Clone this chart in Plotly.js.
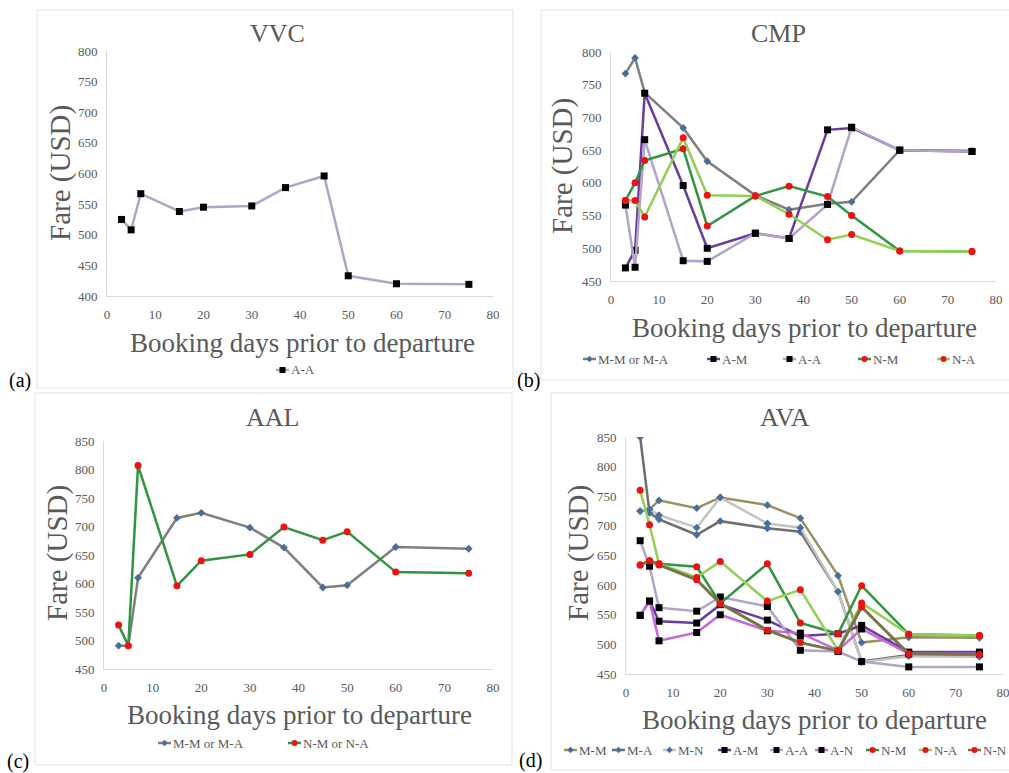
<!DOCTYPE html>
<html><head><meta charset="utf-8">
<script src="https://cdn.plot.ly/plotly-3.0.1.min.js"></script>
<style>html,body{margin:0;padding:0;background:#fff}#chart{width:1009px;height:773px}</style>
</head><body><div id="chart"></div>
<script>
// ---------- DATA ----------
const days = [3, 5, 7, 15, 20, 30, 37, 45, 50, 60, 75];
const xTicks = [0, 10, 20, 30, 40, 50, 60, 70, 80];

// (a) VVC
const vvcAA = [525, 508, 567, 538, 545, 547, 577, 596, 433, 420, 419];

// (b) CMP
const cmpMMorMA = [767, 791, 738, 684, 633, 581, 559, 568, 571, 650, 649];
const cmpAM = [470, 497, 737, 596, 500, 523, 515, 681, 684, 650, 648];
const cmpAA = [566, 471, 666, 481, 480, 523, 515, 567, 685, 650, 648];
const cmpNM = [573, 600, 634, 652, 534, 580, 595, 579, 550, 496, 495];
const cmpNA = [573, 573, 548, 669, 581, 580, 552, 513, 521, 496, 495];

// (c) AAL
const aalMMorMA = [491, 491, 610, 715, 724, 698, 663, 593, 597, 664, 661];
const aalNMorNA = [527, 491, 807, 596, 640, 651, 699, 676, 691, 620, 618];

// (d) AVA
const avaMM = [725, 728, 743, 730, 748, 735, 713, 616, 503, 512, 511];
const avaMA = [850, 722, 711, 685, 708, 696, 690, 589, 471, 482, 480];
const avaMN = [725, 728, 718, 697, 748, 704, 697, 589, 470, 480, 479];
const avaAM = [549, 573, 539, 536, 567, 541, 514, 518, 532, 487, 487];
const avaAA = [675, 632, 562, 556, 580, 564, 490, 488, 471, 462, 462];
const avaAN = [549, 573, 506, 520, 550, 523, 519, 490, 526, 484, 484];
const avaNM = [634, 641, 636, 631, 569, 636, 536, 518, 599, 517, 515];
const avaNA = [760, 702, 636, 613, 640, 573, 592, 490, 570, 517, 515];
const avaNN = [634, 641, 634, 609, 569, 524, 503, 489, 563, 484, 483];

const panelTitles = ['VVC', 'CMP', 'AAL', 'AVA'];
const panelLabels = ['(a)', '(b)', '(c)', '(d)'];
const xTitle = 'Booking days prior to departure';
const yTitle = 'Fare (USD)';

// ---------- STYLE ----------
const W = 1009, H = 773;
const px = v => v / W, py = v => 1 - v / H;
const SERIF = 'Liberation Serif';
const TXT = '#595959';
const C = {
  gray: '#7f7f7f', blue: '#4a6e9c', red: '#ee1111',
  dpurple: '#6a3b9e', lpurple: '#b3a3c9', dgreen: '#2f9540', lgreen: '#92cf55',
  olive: '#9a9163', mgray: '#6e6e6e', lgray: '#c3c3c3', orchid: '#c56bd6', nn: '#767645'
};
const MK = {
  diamond: {symbol: 'diamond', size: 6, color: C.blue},
  square: {symbol: 'square', size: 7, color: '#000'},
  circle: {symbol: 'circle', size: 7, color: C.red}
};

const panels = [
  {xd: [107, 493], yd: [51, 296], yr: [400, 800], title: [277, 33], xt: [302, 343], yt: [60, 173],
   box: [37, 10, 513, 388], lab: [20, 380], legY: 370, legX: [276]},
  {xd: [611, 996], yd: [52, 281], yr: [450, 800], title: [778, 33], xt: [804, 328], yt: [563, 166],
   box: [541, 10, 1015, 380], lab: [528, 380], legY: 359, legX: [583, 707, 783, 858, 937]},
  {xd: [104, 493], yd: [441, 669], yr: [450, 850], title: [272, 417], xt: [299, 715], yt: [57, 553],
   box: [35, 393, 512, 765], lab: [18, 761], legY: 743, legX: [158, 288]},
  {xd: [626, 1003], yd: [437, 674], yr: [450, 850], title: [785, 417], xt: [814, 720], yt: [578, 553],
   box: [551, 393, 1015, 770], lab: [530, 760], legY: 750, legX: [564, 612, 663, 718, 770, 815, 866, 919, 968]}
];

const series = [
  {p: 0, name: 'A-A', y: vvcAA, line: C.lpurple, mk: 'square'},
  {p: 1, name: 'M-M or M-A', y: cmpMMorMA, line: C.gray, mk: 'diamond'},
  {p: 1, name: 'A-M', y: cmpAM, line: C.dpurple, mk: 'square'},
  {p: 1, name: 'A-A', y: cmpAA, line: C.lpurple, mk: 'square'},
  {p: 1, name: 'N-M', y: cmpNM, line: C.dgreen, mk: 'circle'},
  {p: 1, name: 'N-A', y: cmpNA, line: C.lgreen, mk: 'circle'},
  {p: 2, name: 'M-M or M-A', y: aalMMorMA, line: C.gray, mk: 'diamond'},
  {p: 2, name: 'N-M or N-A', y: aalNMorNA, line: C.dgreen, mk: 'circle'},
  {p: 3, name: 'M-M', y: avaMM, line: C.olive, mk: 'diamond'},
  {p: 3, name: 'M-A', y: avaMA, line: C.mgray, mk: 'diamond'},
  {p: 3, name: 'M-N', y: avaMN, line: C.lgray, mk: 'diamond'},
  {p: 3, name: 'A-M', y: avaAM, line: C.dpurple, mk: 'square'},
  {p: 3, name: 'A-A', y: avaAA, line: C.lpurple, mk: 'square'},
  {p: 3, name: 'A-N', y: avaAN, line: C.orchid, mk: 'square'},
  {p: 3, name: 'N-M', y: avaNM, line: C.dgreen, mk: 'circle'},
  {p: 3, name: 'N-A', y: avaNA, line: C.lgreen, mk: 'circle'},
  {p: 3, name: 'N-N', y: avaNN, line: C.nn, mk: 'circle', w: 3}
];

// ---------- BUILD ----------
const traces = series.map(s => {
  const id = s.p === 0 ? '' : String(s.p + 1);
  return {
    type: 'scatter', mode: 'lines+markers', name: s.name, x: days, y: s.y,
    xaxis: 'x' + id, yaxis: 'y' + id, showlegend: false, hoverinfo: 'skip',
    line: {color: s.line, width: s.w || 2.5},
    marker: {symbol: MK[s.mk].symbol, size: MK[s.mk].size, color: MK[s.mk].color}
  };
});

const layout = {
  width: W, height: H, margin: {l: 0, r: 0, t: 0, b: 0},
  paper_bgcolor: '#fff', plot_bgcolor: 'rgba(0,0,0,0)',
  font: {family: SERIF, color: TXT, size: 13}, showlegend: false,
  annotations: [], shapes: []
};

panels.forEach((P, i) => {
  const id = i === 0 ? '' : String(i + 1);
  layout['xaxis' + id] = {
    domain: [px(P.xd[0]), px(P.xd[1])], anchor: 'y' + id, range: [0, 80],
    tickvals: xTicks, ticks: '', showgrid: false, zeroline: false,
    showline: true, linecolor: '#d9d9d9', linewidth: 1, ticklabeloverflow: 'allow',
    tickfont: {family: SERIF, size: 13, color: TXT}, ticklabelstandoff: 6, fixedrange: true
  };
  layout['yaxis' + id] = {
    domain: [py(P.yd[1]), py(P.yd[0])], anchor: 'x' + id, range: P.yr,
    dtick: 50, ticks: '', showgrid: false, zeroline: false,
    showline: true, linecolor: '#d9d9d9', linewidth: 1, ticklabeloverflow: 'allow',
    tickfont: {family: SERIF, size: 13, color: TXT}, ticklabelstandoff: 6, fixedrange: true
  };
  layout.shapes.push({type: 'rect', xref: 'paper', yref: 'paper',
    x0: px(P.box[0]), x1: px(P.box[2]), y0: py(P.box[3]), y1: py(P.box[1]),
    line: {color: '#e3e3e3', width: 1}, layer: 'below'});
  const ann = (x, y, text, size, color, extra) => layout.annotations.push(Object.assign({
    xref: 'paper', yref: 'paper', x: px(x), y: py(y), text: text, showarrow: false,
    xanchor: 'center', yanchor: 'middle', font: {family: SERIF, size: size, color: color}
  }, extra || {}));
  ann(P.title[0], P.title[1], panelTitles[i], 26, TXT);
  ann(P.xt[0], P.xt[1], xTitle, 27, TXT);
  ann(P.yt[0], P.yt[1], yTitle, 29, TXT, {textangle: -90});
  ann(P.lab[0], P.lab[1], panelLabels[i], 20, '#000');

  const ser = series.filter(s => s.p === i);
  ser.forEach((s, k) => {
    const x0 = P.legX[k], y = P.legY;
    layout.shapes.push({type: 'line', xref: 'paper', yref: 'paper',
      x0: px(x0), x1: px(x0 + 13), y0: py(y), y1: py(y), line: {color: s.line, width: 2.5}});
    const cx = x0 + 6.5, r = 3;
    const m = MK[s.mk];
    if (s.mk === 'square') {
      layout.shapes.push({type: 'rect', xref: 'paper', yref: 'paper',
        x0: px(cx - r), x1: px(cx + r), y0: py(y + r), y1: py(y - r),
        fillcolor: m.color, line: {width: 0}});
    } else if (s.mk === 'circle') {
      layout.shapes.push({type: 'circle', xref: 'paper', yref: 'paper',
        x0: px(cx - r), x1: px(cx + r), y0: py(y + r), y1: py(y - r),
        fillcolor: m.color, line: {width: 0}});
    } else {
      const d = 3.2;
      layout.shapes.push({type: 'path', xref: 'paper', yref: 'paper',
        path: `M${px(cx - d)},${py(y)} L${px(cx)},${py(y - d)} L${px(cx + d)},${py(y)} L${px(cx)},${py(y + d)} Z`,
        fillcolor: m.color, line: {width: 0}});
    }
    ann(x0 + 13, y, s.name, 13, TXT, {xanchor: 'left'});
  });
});

Plotly.newPlot('chart', traces, layout, {displayModeBar: false});
</script>
</body></html>
